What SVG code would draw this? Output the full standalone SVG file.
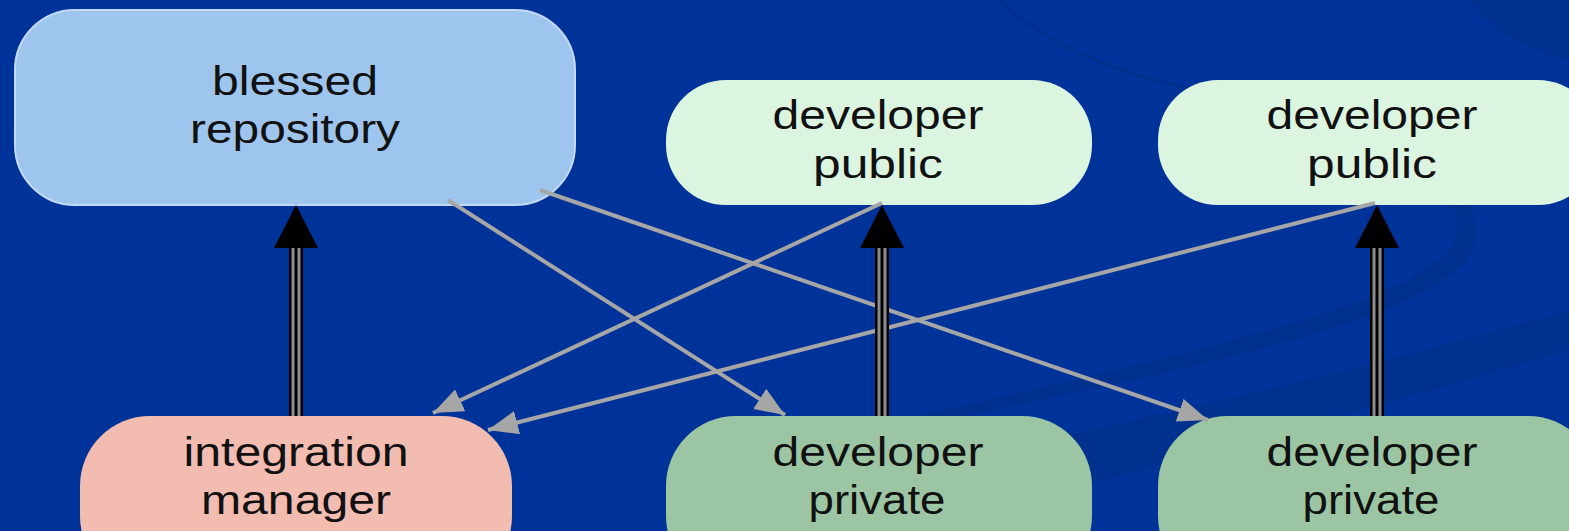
<svg xmlns="http://www.w3.org/2000/svg" width="1569" height="531" viewBox="0 0 1569 531">
<style>
.lbl{font-family:"Liberation Sans",Arial,sans-serif;font-size:41px;fill:#111;text-anchor:middle}
.g{stroke:#a6a6a6;stroke-width:4;fill:none}
.bo{stroke:#000;stroke-width:14}
.bg{stroke:#8c8c8c;stroke-width:9}
.bc{stroke:#000;stroke-width:3}
.head{fill:#000}
</style>
<defs>
<marker id="ga" markerUnits="userSpaceOnUse" markerWidth="32" markerHeight="26" refX="30" refY="12" orient="auto">
<path d="M0,0 L30,12 L0,24 z" fill="#a6a6a6"/>
</marker>
</defs>
<rect width="1569" height="531" fill="#003399"/>
<g id="background" fill="none">
<path d="M1000,0 C1040,40 1120,80 1230,95" stroke="#002f8c" stroke-width="3"/>
<path d="M1569,310 C1400,360 1150,420 900,470 L900,531 C1150,470 1400,400 1569,350 z" fill="#00318f" stroke="none"/>
<path d="M1450,205 C1500,280 1300,330 900,420 L900,430 C1300,345 1520,300 1470,205 z" fill="#00308d" stroke="none"/>
<path d="M1470,0 C1490,30 1530,50 1569,60 L1569,0 z" fill="#00318f" stroke="none"/>
</g>
<g id="blessed">
<rect x="15" y="10" width="560" height="195" rx="60" fill="#9ec5ee" stroke="#c2daf5" stroke-width="2"/>
<text class="lbl" x="295" y="95" textLength="166" lengthAdjust="spacingAndGlyphs">blessed</text>
<text class="lbl" x="295" y="143" textLength="210" lengthAdjust="spacingAndGlyphs">repository</text>
</g>
<g id="devpublic1">
<rect x="666" y="80" width="426" height="125" rx="60" fill="#dcf5e0"/>
<text class="lbl" x="878" y="129" textLength="211" lengthAdjust="spacingAndGlyphs">developer</text>
<text class="lbl" x="878" y="178" textLength="130" lengthAdjust="spacingAndGlyphs">public</text>
</g>
<g id="devpublic2">
<rect x="1158" y="80" width="440" height="125" rx="60" fill="#dcf5e0"/>
<text class="lbl" x="1372" y="129" textLength="211" lengthAdjust="spacingAndGlyphs">developer</text>
<text class="lbl" x="1372" y="178" textLength="130" lengthAdjust="spacingAndGlyphs">public</text>
</g>
<g id="integration">
<rect x="80" y="416" width="432" height="170" rx="70" fill="#f2bcb1"/>
<text class="lbl" x="296" y="466" textLength="225" lengthAdjust="spacingAndGlyphs">integration</text>
<text class="lbl" x="296" y="514" textLength="190" lengthAdjust="spacingAndGlyphs">manager</text>
</g>
<g id="devprivate1">
<rect x="666" y="416" width="426" height="170" rx="70" fill="#9cc6a3"/>
<text class="lbl" x="878" y="466" textLength="211" lengthAdjust="spacingAndGlyphs">developer</text>
<text class="lbl" x="877" y="514" textLength="137" lengthAdjust="spacingAndGlyphs">private</text>
</g>
<g id="devprivate2">
<rect x="1158" y="416" width="440" height="170" rx="70" fill="#9cc6a3"/>
<text class="lbl" x="1372" y="466" textLength="211" lengthAdjust="spacingAndGlyphs">developer</text>
<text class="lbl" x="1371" y="514" textLength="137" lengthAdjust="spacingAndGlyphs">private</text>
</g>
<g id="connectors">
<line class="g" x1="448" y1="200" x2="785" y2="415" marker-end="url(#ga)"/>
<line class="g" x1="540" y1="190" x2="1208" y2="420" marker-end="url(#ga)"/>
<line class="g" x1="882" y1="203" x2="433" y2="413" marker-end="url(#ga)"/>
<line class="g" x1="1375" y1="203" x2="488" y2="430" marker-end="url(#ga)"/>
<g id="push1">
<line class="bo" x1="296" y1="416" x2="296" y2="246"/>
<line class="bg" x1="296" y1="416" x2="296" y2="246"/>
<line class="bc" x1="296" y1="416" x2="296" y2="246"/>
<path class="head" d="M296,205 L274,248 L318,248 z"/>
</g>
<g id="push2">
<line class="bo" x1="882" y1="416" x2="882" y2="246"/>
<line class="bg" x1="882" y1="416" x2="882" y2="246"/>
<line class="bc" x1="882" y1="416" x2="882" y2="246"/>
<path class="head" d="M882,205 L860,248 L904,248 z"/>
</g>
<g id="push3">
<line class="bo" x1="1377" y1="416" x2="1377" y2="246"/>
<line class="bg" x1="1377" y1="416" x2="1377" y2="246"/>
<line class="bc" x1="1377" y1="416" x2="1377" y2="246"/>
<path class="head" d="M1377,205 L1355,248 L1399,248 z"/>
</g>
</g>
</svg>
